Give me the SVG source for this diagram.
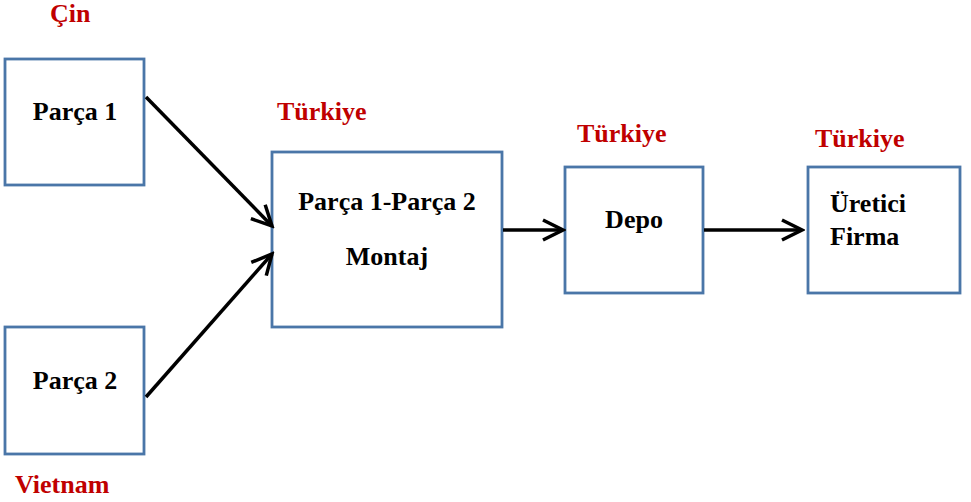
<svg xmlns="http://www.w3.org/2000/svg" width="971" height="502" viewBox="0 0 971 502">
<defs>
<style>
.box{fill:#fff;stroke:#4A76A8;stroke-width:2.8}
.t{font-family:"Liberation Serif","Times New Roman",serif;font-weight:bold;font-size:26px;fill:#000}
.r{font-family:"Liberation Serif","Times New Roman",serif;font-weight:bold;font-size:26px;fill:#C00000}
.c{text-anchor:middle}
.ln{stroke:#000;stroke-width:3.5;fill:none}
</style>
<marker id="ah" markerUnits="userSpaceOnUse" viewBox="0 0 26 26" markerWidth="26" markerHeight="26" refX="23" refY="13" orient="auto">
<path d="M3,3 L23,13 L3,23" fill="none" stroke="#000" stroke-width="3.5" stroke-linejoin="miter"/>
</marker>
</defs>
<rect width="971" height="502" fill="#fff"/>
<g id="parca1">
<rect class="box" x="5" y="59" width="139" height="126"/>
<text class="t c" x="75" y="120">Parça 1</text>
<text class="r" x="50" y="22">Çin</text>
</g>
<g id="parca2">
<rect class="box" x="5" y="327" width="139" height="127"/>
<text class="t c" x="75" y="389">Parça 2</text>
<text class="r" x="15" y="493">Vietnam</text>
</g>
<g id="montaj">
<rect class="box" x="272" y="152" width="230" height="175"/>
<text class="t c" x="387" y="210">Parça 1-Parça 2</text>
<text class="t c" x="387" y="265">Montaj</text>
<text class="r" x="277" y="120">Türkiye</text>
</g>
<g id="depo">
<rect class="box" x="565" y="167" width="138" height="126"/>
<text class="t c" x="634" y="228">Depo</text>
<text class="r" x="577" y="142">Türkiye</text>
</g>
<g id="uretici">
<rect class="box" x="808" y="167" width="152" height="126"/>
<text class="t" x="830" y="212">Üretici</text>
<text class="t" x="830" y="245">Firma</text>
<text class="r" x="815" y="147">Türkiye</text>
</g>
<g id="connectors">
<line class="ln" x1="146" y1="97" x2="272" y2="226" marker-end="url(#ah)"/>
<line class="ln" x1="146" y1="397" x2="272" y2="254" marker-end="url(#ah)"/>
<line class="ln" x1="503" y1="230" x2="563" y2="230" marker-end="url(#ah)"/>
<line class="ln" x1="704" y1="230" x2="802" y2="230" marker-end="url(#ah)"/>
</g>
</svg>
